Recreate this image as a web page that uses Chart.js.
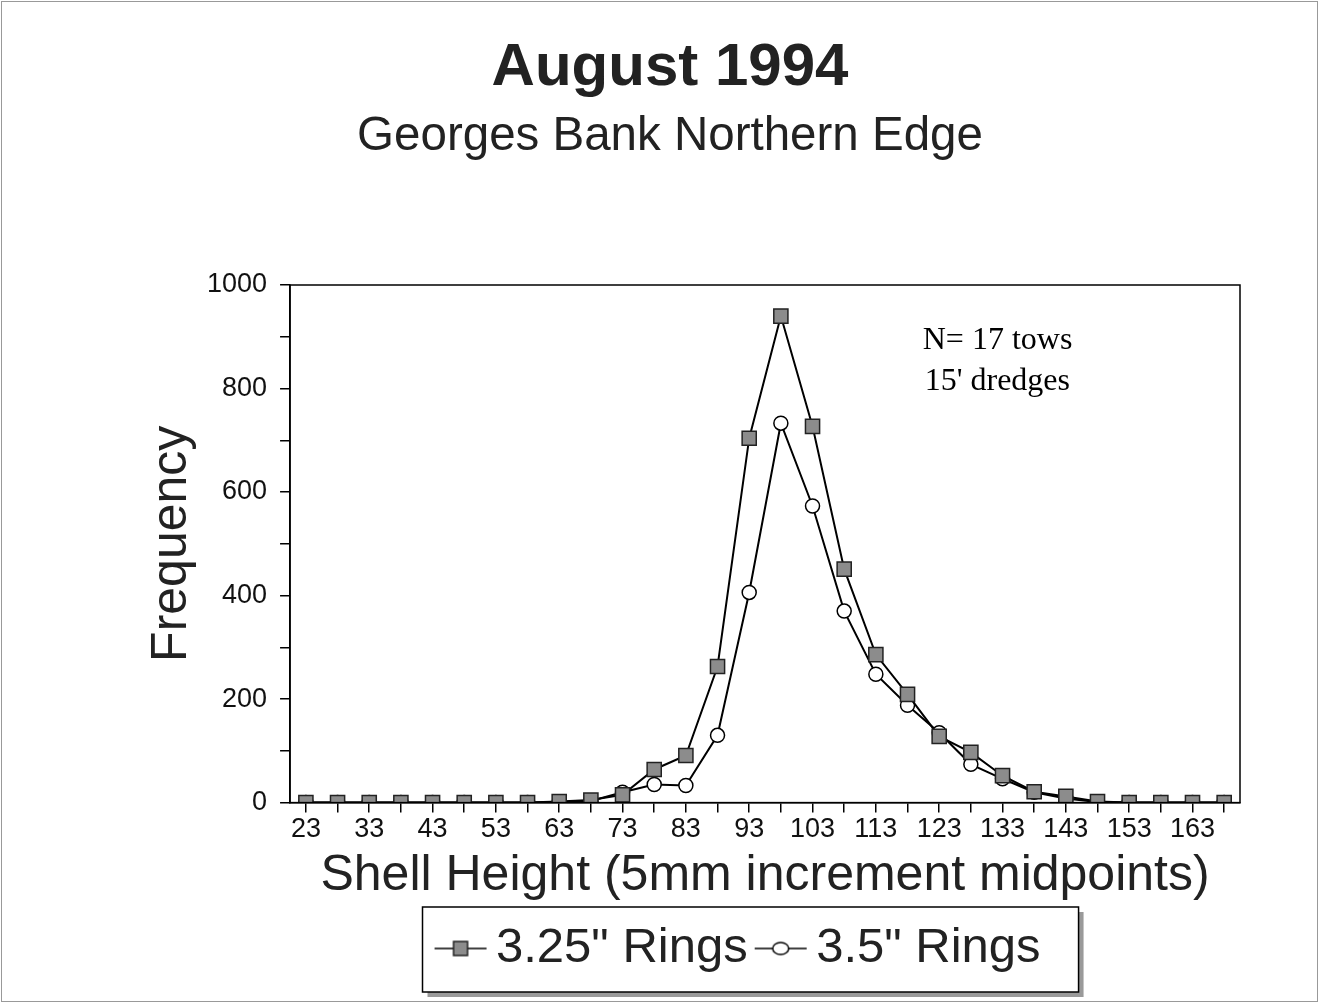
<!DOCTYPE html>
<html>
<head>
<meta charset="utf-8">
<script src="https://cdn.jsdelivr.net/npm/chart.js@4"></script>
<style>
  body { margin: 0; background: #fff; }
  canvas { display: block; }
</style>
</head>
<body>
<canvas id="myChart" width="1319" height="1003"></canvas>
<script>
// data block
const shellHeights = [23, 28, 33, 38, 43, 48, 53, 58, 63, 68, 73, 78, 83, 88, 93, 98, 103, 108, 113, 118, 123, 128, 133, 138, 143, 148, 153, 158, 163, 168];
const rings325 = [0, 0, 0, 0, 0, 0, 0, 0, 2, 5, 15, 64, 91, 263, 704, 940, 727, 451, 286, 209, 128, 97, 52, 21, 12, 2, 0, 0, 0, 0];
const rings35 = [0, 0, 0, 0, 0, 0, 0, 0, 1, 3, 20, 35, 33, 130, 406, 733, 573, 370, 248, 188, 135, 74, 46, 20, 8, 1, 0, 0, 0, 0];
const yTicks = [0, 200, 400, 600, 800, 1000];
const noteLines = ["N= 17 tows", "15' dredges"];

const sansFont = "'Liberation Sans', Arial, sans-serif";
const serifFont = "'Liberation Serif', 'Times New Roman', serif";

// little canvases for the legend symbols (line + marker)
function legendSymbol(kind) {
  const c = document.createElement("canvas");
  c.width = 56;
  c.height = 20;
  const g = c.getContext("2d");
  g.strokeStyle = "#000";
  g.lineWidth = 1.5;
  g.beginPath();
  g.moveTo(2, 10);
  g.lineTo(54, 10);
  g.stroke();
  if (kind === "rect") {
    g.fillStyle = "#8c8c8c";
    g.fillRect(21, 3, 14, 14);
    g.strokeStyle = "#222";
    g.strokeRect(21, 3, 14, 14);
  } else {
    g.fillStyle = "#fff";
    g.beginPath();
    g.ellipse(28, 10, 8, 6, 0, 0, Math.PI * 2);
    g.fill();
    g.stroke();
  }
  return c;
}

// page frame, plot box, legend box and the note text
const decorPlugin = {
  id: "decor",
  afterLayout(chart) {
    // legend in the original sits a little left of the plot centre
    const lg = chart.legend;
    if (lg) {
      lg.left -= 20;
      lg.right -= 20;
    }
  },
  beforeDraw(chart) {
    const ctx = chart.ctx;
    ctx.save();
    ctx.fillStyle = "#fff";
    ctx.fillRect(0, 0, chart.width, chart.height);
    ctx.strokeStyle = "#999";
    ctx.lineWidth = 1;
    ctx.strokeRect(1.5, 1.5, chart.width - 3, chart.height - 3);

    const boxes = chart.legend && chart.legend.legendHitBoxes;
    if (boxes && boxes.length) {
      const first = boxes[0];
      const last = boxes[boxes.length - 1];
      const x = first.left - 27;
      const y = first.top - 17;
      const w = last.left + last.width + 38 - x;
      const h = first.height + 36;
      ctx.fillStyle = "#9a9a9a";
      ctx.fillRect(x + 5, y + 5, w, h);
      ctx.fillStyle = "#fff";
      ctx.fillRect(x, y, w, h);
      ctx.strokeStyle = "#000";
      ctx.lineWidth = 1.5;
      ctx.strokeRect(x, y, w, h);
    }
    ctx.restore();
  },
  afterDraw(chart) {
    const ctx = chart.ctx;
    const a = chart.chartArea;
    ctx.save();
    ctx.strokeStyle = "#000";
    ctx.lineWidth = 1.5;
    ctx.strokeRect(a.left, a.top, a.right - a.left, a.bottom - a.top);
    ctx.fillStyle = "#000";
    ctx.font = "32px " + serifFont;
    ctx.textBaseline = "middle";
    ctx.textAlign = "left";
    const nx = a.left + (a.right - a.left) * 0.666;
    noteLines.forEach((t, i) => {
      ctx.fillText(t, nx + (i ? 2 : 0), a.top + 56 + i * 41);
    });
    ctx.restore();
  },
};

const data = {
  labels: shellHeights,
  datasets: [
    {
      label: '3.25" Rings',
      data: rings325,
      borderColor: "#000",
      borderWidth: 2,
      pointStyle: "rect",
      pointRadius: 10,
      pointBackgroundColor: "#8c8c8c",
      pointBorderColor: "#222",
      pointBorderWidth: 1.5,
      tension: 0,
    },
    {
      label: '3.5" Rings',
      data: rings35,
      borderColor: "#000",
      borderWidth: 2,
      pointStyle: "circle",
      pointRadius: 7,
      pointBackgroundColor: "#fff",
      pointBorderColor: "#000",
      pointBorderWidth: 1.5,
      tension: 0,
    },
  ],
};

const symbols = [legendSymbol("rect"), legendSymbol("circle")];

const config = {
  type: "line",
  data,
  options: {
    responsive: false,
    animation: false,
    layout: {
      padding: { top: 0, left: 100, right: 79, bottom: 20 },
    },
    plugins: {
      title: {
        display: true,
        text: "August 1994",
        color: "#222",
        font: { family: sansFont, size: 60, weight: "bold" },
        padding: { top: 32, bottom: 4 },
      },
      subtitle: {
        display: true,
        text: "Georges Bank Northern Edge",
        color: "#222",
        font: { family: sansFont, size: 47.5 },
        padding: { top: 0, bottom: 120 },
      },
      legend: {
        display: true,
        position: "bottom",
        fullSize: false,
        labels: {
          usePointStyle: true,
          pointStyleWidth: 22,
          color: "#222",
          font: { family: sansFont, size: 49 },
          padding: 22,
          generateLabels(chart) {
            return chart.data.datasets.map((ds, i) => ({
              text: ds.label,
              pointStyle: symbols[i],
              fontColor: "#222",
              strokeStyle: "transparent",
              lineWidth: 0,
              datasetIndex: i,
            }));
          },
        },
      },
      tooltip: { enabled: false },
    },
    scales: {
      x: {
        type: "category",
        offset: true,
        grid: {
          offset: false,
          drawOnChartArea: false,
          drawTicks: true,
          tickLength: 10,
          color: "#000",
          lineWidth: 1.5,
        },
        border: { display: true, color: "#000", width: 1.5 },
        ticks: {
          autoSkip: false,
          maxRotation: 0,
          padding: 1,
          color: "#111",
          font: { family: sansFont, size: 27 },
          callback: (val, i) => (i % 2 === 0 ? shellHeights[i] : ""),
        },
        title: {
          display: true,
          text: "Shell Height (5mm increment midpoints)",
          color: "#222",
          font: { family: sansFont, size: 50, lineHeight: 1 },
          padding: { top: 4, bottom: 1 },
        },
      },
      y: {
        min: 0,
        max: 1000,
        grid: {
          drawOnChartArea: false,
          drawTicks: true,
          tickLength: 10,
          color: "#000",
          lineWidth: 1.5,
        },
        border: { display: true, color: "#000", width: 1.5 },
        ticks: {
          stepSize: 100,
          padding: 13,
          color: "#111",
          font: { family: sansFont, size: 27 },
          callback: (val) => (yTicks.includes(val) ? val : ""),
        },
        title: {
          display: true,
          text: "Frequency",
          color: "#222",
          font: { family: sansFont, size: 50 },
          padding: { top: 42, bottom: -8 },
        },
      },
    },
  },
  plugins: [decorPlugin],
};

const shellChart = new Chart(document.getElementById("myChart"), config);
</script>
</body>
</html>
